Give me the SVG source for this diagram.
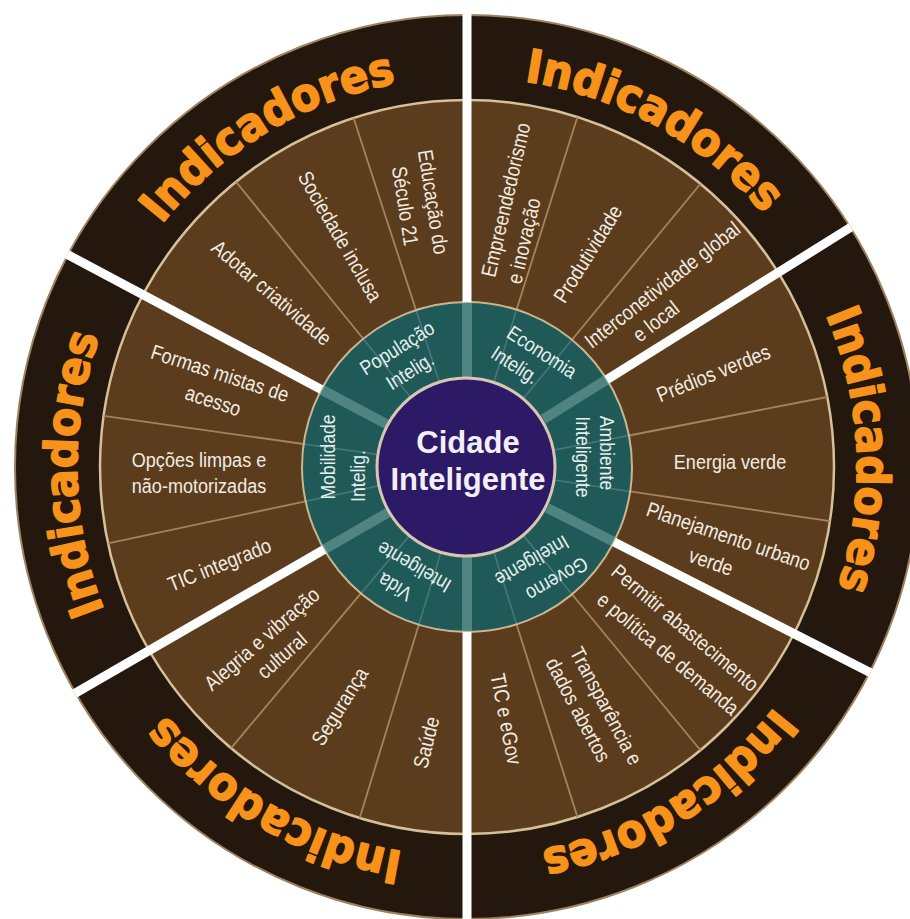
<svg xmlns="http://www.w3.org/2000/svg" width="910" height="919" viewBox="0 0 910 919">
  <style>
    .lbl { font-family: "Liberation Sans", Arial, sans-serif; font-size: 21px; fill: #F1ECE3; text-anchor: middle; }
    .inner { font-family: "Liberation Sans", Arial, sans-serif; font-size: 20.5px; fill: #E6EFEC; text-anchor: middle; }
    .hub { font-family: "Liberation Sans", Arial, sans-serif; font-size: 31px; font-weight: bold; fill: #F4EEF7; text-anchor: middle; }
    .ind { font-family: "DejaVu Sans", "Liberation Sans", sans-serif; font-size: 46px; font-weight: bold; fill: #F7921A; stroke: #F7921A; stroke-width: 1.6; stroke-linejoin: round; }
    .sub { stroke: #A6845A; stroke-width: 1.8; }
    .subfaint { stroke: #BFD6CF; stroke-width: 1.5; opacity: 0.25; }
    .major { stroke: #FFFFFF; stroke-width: 9; }
    .band { stroke: #A9D3CF; stroke-width: 10; opacity: 0.35; }
  </style>
  <defs>
    <!-- clockwise baseline arcs (r=390) for the outer ring captions -->
    <path id="arc-pop" d="M132.7,266.1 A390,390 0 0 1 446.6,77.5"/>
    <path id="arc-eco" d="M473.8,77.1 A390,390 0 0 1 794.1,254.6"/>
    <path id="arc-amb" d="M803.0,269.1 A390,390 0 0 1 819.0,634.9"/>
    <path id="arc-gov" d="M803.0,664.9 A390,390 0 0 1 490.8,856.3"/>
    <path id="arc-vida" d="M453.4,856.8 A390,390 0 0 1 136.3,673.7"/>
    <path id="arc-mob" d="M125.9,656.1 A390,390 0 0 1 119.5,289.9"/>
  </defs>

  <!-- concentric rings -->
  <g id="rings">
    <circle cx="467" cy="467" r="452" fill="#24170D" stroke="#9C8160" stroke-width="2"/>
    <circle cx="467" cy="467" r="367" fill="#5B3C1D" stroke="#D6C09A" stroke-width="2.5"/>
  </g>

  <!-- thin dividers between indicators -->
  <g id="sub-dividers" class="sub">
    <line x1="516.6" y1="309.6" x2="577.4" y2="117.0"/>
    <line x1="572.0" y1="339.7" x2="700.5" y2="183.8"/>
    <line x1="629.0" y1="435.5" x2="827.3" y2="397.0"/>
    <line x1="630.2" y1="491.4" x2="830.0" y2="521.2"/>
    <line x1="572.0" y1="594.3" x2="700.5" y2="750.2"/>
    <line x1="516.6" y1="624.4" x2="577.4" y2="817.0"/>
    <line x1="418.8" y1="624.8" x2="359.7" y2="818.0"/>
    <line x1="360.9" y1="593.4" x2="231.1" y2="748.1"/>
    <line x1="305.6" y1="501.3" x2="108.0" y2="543.3"/>
    <line x1="303.6" y1="444.0" x2="103.6" y2="415.9"/>
    <line x1="363.2" y1="338.8" x2="236.0" y2="181.8"/>
    <line x1="416.0" y1="310.1" x2="353.6" y2="118.0"/>
  </g>

  <g id="teal-ring">
    <circle cx="467" cy="467" r="165" fill="#1F5A59" stroke="#C9B68F" stroke-width="2"/>
    <g class="subfaint">
      <line x1="494.1" y1="381.2" x2="516.6" y2="309.6"/>
      <line x1="524.2" y1="397.6" x2="572.0" y2="339.7"/>
      <line x1="555.3" y1="449.8" x2="629.0" y2="435.5"/>
      <line x1="556.0" y1="480.3" x2="630.2" y2="491.4"/>
      <line x1="524.2" y1="536.4" x2="572.0" y2="594.3"/>
      <line x1="494.1" y1="552.8" x2="516.6" y2="624.4"/>
      <line x1="440.7" y1="553.1" x2="418.8" y2="624.8"/>
      <line x1="409.1" y1="535.9" x2="360.9" y2="593.4"/>
      <line x1="379.0" y1="485.7" x2="305.6" y2="501.3"/>
      <line x1="377.9" y1="454.5" x2="303.6" y2="444.0"/>
      <line x1="410.4" y1="397.1" x2="363.2" y2="338.8"/>
      <line x1="439.2" y1="381.4" x2="416.0" y2="310.1"/>
    </g>
    <g class="band">
      <line x1="467" y1="377" x2="467" y2="302"/>
      <line x1="543.3" y1="419.3" x2="606.9" y2="379.6"/>
      <line x1="547.2" y1="507.9" x2="614.0" y2="541.9"/>
      <line x1="467" y1="557" x2="467" y2="632"/>
      <line x1="389.1" y1="512.0" x2="324.1" y2="549.5"/>
      <line x1="387.5" y1="424.7" x2="321.3" y2="389.5"/>
    </g>
  </g>

  <!-- white separators between the six dimensions -->
  <g id="connectors" class="major">
    <line x1="467" y1="302" x2="467" y2="14"/>
    <line x1="606.9" y1="379.6" x2="851.1" y2="227.0"/>
    <line x1="614.0" y1="541.9" x2="870.6" y2="672.7"/>
    <line x1="467" y1="632" x2="467" y2="920"/>
    <line x1="324.1" y1="549.5" x2="74.7" y2="693.5"/>
    <line x1="321.3" y1="389.5" x2="67.0" y2="254.3"/>
  </g>

  <g id="hub">
    <circle cx="466" cy="467" r="89" fill="#2C1A66" stroke="#D8C6B0" stroke-width="3"/>
    <text class="hub" x="468" y="453">Cidade</text>
    <text class="hub" x="468" y="490">Inteligente</text>
  </g>

  <g id="sector-populacao">
    <text class="inner" transform="translate(397,348) rotate(-32) scale(0.86,1)" y="7">População</text>
    <text class="inner" transform="translate(410,371) rotate(-32) scale(0.86,1)" y="7">Intelig.</text>
    <text class="lbl" transform="translate(433,202) rotate(81) scale(0.86,1)" y="7">Educação do</text>
    <text class="lbl" transform="translate(405,206) rotate(81) scale(0.86,1)" y="7">Século 21</text>
    <text class="lbl" transform="translate(340,236.5) rotate(60) scale(0.86,1)" y="7">Sociedade inclusa</text>
    <text class="lbl" transform="translate(271.5,293) rotate(40.5) scale(0.86,1)" y="7">Adotar criatividade</text>
    <text class="ind"><textPath href="#arc-pop" startOffset="50%" text-anchor="middle" textLength="280" lengthAdjust="spacingAndGlyphs">Indicadores</textPath></text>
  </g>

  <g id="sector-economia">
    <text class="inner" transform="translate(542,352) rotate(33) scale(0.86,1)" y="7">Economia</text>
    <text class="inner" transform="translate(515,365) rotate(33) scale(0.86,1)" y="7">Intelig.</text>
    <text class="lbl" transform="translate(506,200) rotate(-77) scale(0.86,1)" y="7">Empreendedorismo</text>
    <text class="lbl" transform="translate(524,241) rotate(-77) scale(0.86,1)" y="7">e inovação</text>
    <text class="lbl" transform="translate(588,254) rotate(-58) scale(0.86,1)" y="7">Produtividade</text>
    <text class="lbl" transform="translate(662.5,285) rotate(-38) scale(0.86,1)" y="7">Interconetividade global</text>
    <text class="lbl" transform="translate(656,321.5) rotate(-38) scale(0.86,1)" y="7">e local</text>
    <text class="ind"><textPath href="#arc-eco" startOffset="50%" text-anchor="middle" textLength="280" lengthAdjust="spacingAndGlyphs">Indicadores</textPath></text>
  </g>

  <g id="sector-ambiente">
    <text class="inner" transform="translate(607,453) rotate(90) scale(0.86,1)" y="7">Ambiente</text>
    <text class="inner" transform="translate(583,457) rotate(90) scale(0.86,1)" y="7">Inteligente</text>
    <text class="lbl" transform="translate(713.5,373.5) rotate(-22) scale(0.86,1)" y="7">Prédios verdes</text>
    <text class="lbl" transform="translate(730,462) scale(0.86,1)" y="7">Energia verde</text>
    <text class="lbl" transform="translate(728.5,536.5) rotate(19) scale(0.86,1)" y="7">Planejamento urbano</text>
    <text class="lbl" transform="translate(711,562) rotate(19) scale(0.86,1)" y="7">verde</text>
    <text class="ind"><textPath href="#arc-amb" startOffset="50%" text-anchor="middle" textLength="280" lengthAdjust="spacingAndGlyphs">Indicadores</textPath></text>
  </g>

  <g id="sector-governo">
    <text class="inner" transform="translate(557,579) rotate(150) scale(0.86,1)" y="7">Governo</text>
    <text class="inner" transform="translate(532,561) rotate(150) scale(0.86,1)" y="7">Inteligente</text>
    <text class="lbl" transform="translate(685,628) rotate(40) scale(0.86,1)" y="7">Permitir abastecimento</text>
    <text class="lbl" transform="translate(668,654) rotate(40) scale(0.86,1)" y="7">e política de demanda</text>
    <text class="lbl" transform="translate(606,706) rotate(62) scale(0.86,1)" y="7">Transparência e</text>
    <text class="lbl" transform="translate(578,710) rotate(62) scale(0.86,1)" y="7">dados abertos</text>
    <text class="lbl" transform="translate(506,719) rotate(79) scale(0.86,1)" y="7">TIC e eGov</text>
    <text class="ind"><textPath href="#arc-gov" startOffset="50%" text-anchor="middle" textLength="280" lengthAdjust="spacingAndGlyphs">Indicadores</textPath></text>
  </g>

  <g id="sector-vida">
    <text class="inner" transform="translate(395,587) rotate(210) scale(0.86,1)" y="7">Vida</text>
    <text class="inner" transform="translate(414,567) rotate(210) scale(0.86,1)" y="7">Inteligente</text>
    <text class="lbl" transform="translate(426.5,742.5) rotate(-76) scale(0.86,1)" y="7">Saúde</text>
    <text class="lbl" transform="translate(340,706.5) rotate(-58) scale(0.86,1)" y="7">Segurança</text>
    <text class="lbl" transform="translate(262,639) rotate(-41) scale(0.86,1)" y="7">Alegria e vibração</text>
    <text class="lbl" transform="translate(282,655.5) rotate(-41) scale(0.86,1)" y="7">cultural</text>
    <text class="ind"><textPath href="#arc-vida" startOffset="50%" text-anchor="middle" textLength="280" lengthAdjust="spacingAndGlyphs">Indicadores</textPath></text>
  </g>

  <g id="sector-mobilidade">
    <text class="inner" transform="translate(328,457) rotate(-90) scale(0.86,1)" y="7">Mobilidade</text>
    <text class="inner" transform="translate(358,476) rotate(-90) scale(0.86,1)" y="7">Intelig.</text>
    <text class="lbl" transform="translate(219.5,565) rotate(-22) scale(0.86,1)" y="7">TIC integrado</text>
    <text class="lbl" transform="translate(199,459.5) scale(0.86,1)" y="7">Opções limpas e</text>
    <text class="lbl" transform="translate(199,485.5) scale(0.86,1)" y="7">não-motorizadas</text>
    <text class="lbl" transform="translate(220,373.5) rotate(18) scale(0.86,1)" y="7">Formas mistas de</text>
    <text class="lbl" transform="translate(213,401) rotate(18) scale(0.86,1)" y="7">acesso</text>
    <text class="ind"><textPath href="#arc-mob" startOffset="50%" text-anchor="middle" textLength="280" lengthAdjust="spacingAndGlyphs">Indicadores</textPath></text>
  </g>
</svg>
